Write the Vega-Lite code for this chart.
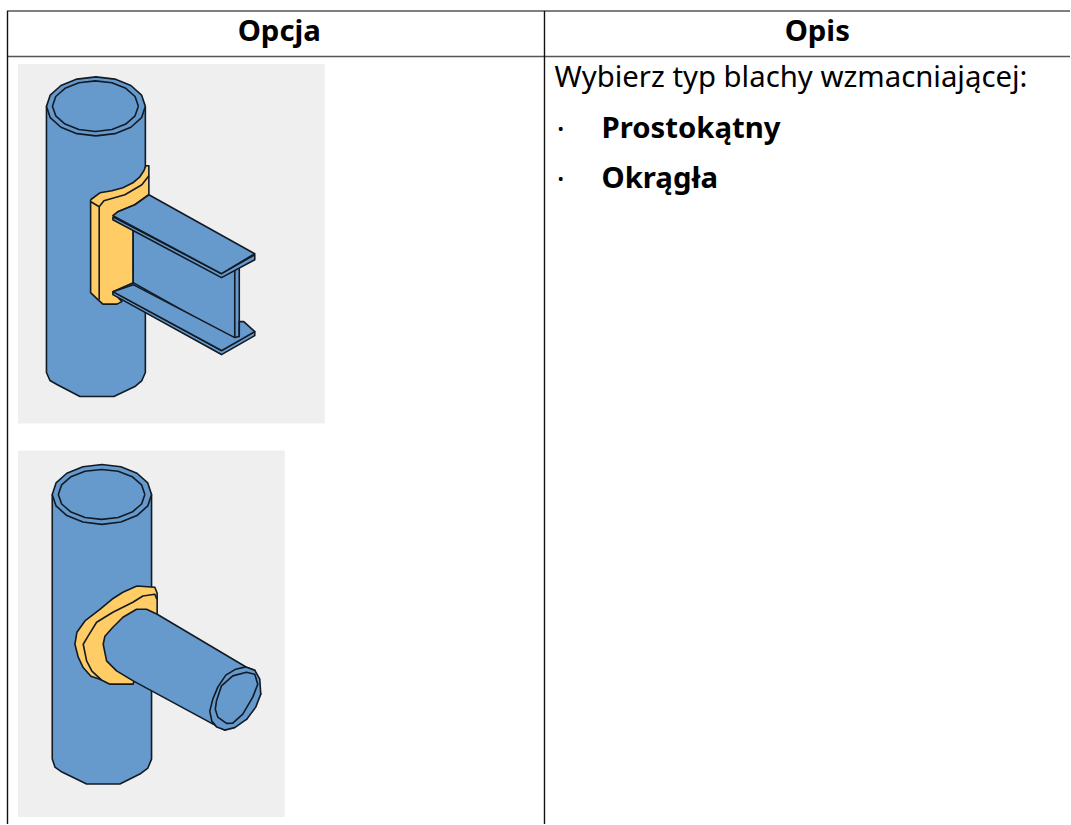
{"$schema":"https://vega.github.io/schema/vega-lite/v6.json","width":1071,"height":825,"autosize":{"type":"fit","contains":"padding"},"padding":0,"background":"white","view":{"stroke":null},
"datasets":{
"panels":[{"panel":"Prostokątny","x":18,"x2":325,"y":64,"y2":424},{"panel":"Okrągła","x":18,"x2":285,"y":451,"y2":818}],
"rules":[{"kind":"h","x":7,"x2":1071,"y":11,"y2":11},{"kind":"h","x":7,"x2":1071,"y":56.5,"y2":56.5},{"kind":"v","x":7.5,"x2":7.5,"y":11,"y2":825},{"kind":"v","x":545,"x2":545,"y":11,"y2":825}],
"head":[{"t":"Opcja","x":279.5,"y":41},{"t":"Opis","x":818,"y":41}],
"bullets":[{"t":"•","x":558,"y":135},{"t":"•","x":558,"y":185.5}],
"bold":[{"t":"Prostokątny","x":602,"y":138},{"t":"Okrągła","x":602,"y":188.5}],
"body":[{"t":"Wybierz typ blachy wzmacniającej:","x":555,"y":87}],
"shapes":[
{"s":"c1","p":"steel","i":0,"x":46.5,"y":106.5},{"s":"c1","p":"steel","i":1,"x":46.5,"y":373},{"s":"c1","p":"steel","i":2,"x":50,"y":381},{"s":"c1","p":"steel","i":3,"x":57,"y":385},{"s":"c1","p":"steel","i":4,"x":80,"y":397},{"s":"c1","p":"steel","i":5,"x":114,"y":397},{"s":"c1","p":"steel","i":6,"x":135,"y":387},{"s":"c1","p":"steel","i":7,"x":142,"y":381},{"s":"c1","p":"steel","i":8,"x":145.5,"y":373},{"s":"c1","p":"steel","i":9,"x":145.5,"y":106.5},{"s":"c1","p":"steel","i":10,"x":46.5,"y":106.5},
{"s":"e1","p":"steel","i":0,"x":145.5,"y":106.5},{"s":"e1","p":"steel","i":1,"x":141.7,"y":117.8},{"s":"e1","p":"steel","i":2,"x":131,"y":127.4},{"s":"e1","p":"steel","i":3,"x":115,"y":133.8},{"s":"e1","p":"steel","i":4,"x":96,"y":136},{"s":"e1","p":"steel","i":5,"x":77,"y":133.8},{"s":"e1","p":"steel","i":6,"x":61,"y":127.4},{"s":"e1","p":"steel","i":7,"x":50.3,"y":117.8},{"s":"e1","p":"steel","i":8,"x":46.5,"y":106.5},{"s":"e1","p":"steel","i":9,"x":50.3,"y":95.2},{"s":"e1","p":"steel","i":10,"x":61,"y":85.6},{"s":"e1","p":"steel","i":11,"x":77,"y":79.2},{"s":"e1","p":"steel","i":12,"x":96,"y":77},{"s":"e1","p":"steel","i":13,"x":115,"y":79.2},{"s":"e1","p":"steel","i":14,"x":131,"y":85.6},{"s":"e1","p":"steel","i":15,"x":141.7,"y":95.2},{"s":"e1","p":"steel","i":16,"x":145.5,"y":106.5},
{"s":"i1","p":"steel","i":0,"x":138.5,"y":106.3},{"s":"i1","p":"steel","i":1,"x":135.2,"y":116},{"s":"i1","p":"steel","i":2,"x":125.9,"y":124.2},{"s":"i1","p":"steel","i":3,"x":112,"y":129.7},{"s":"i1","p":"steel","i":4,"x":95.5,"y":131.6},{"s":"i1","p":"steel","i":5,"x":79,"y":129.7},{"s":"i1","p":"steel","i":6,"x":65.1,"y":124.2},{"s":"i1","p":"steel","i":7,"x":55.8,"y":116},{"s":"i1","p":"steel","i":8,"x":52.5,"y":106.3},{"s":"i1","p":"steel","i":9,"x":55.8,"y":96.6},{"s":"i1","p":"steel","i":10,"x":65.1,"y":88.4},{"s":"i1","p":"steel","i":11,"x":79,"y":82.9},{"s":"i1","p":"steel","i":12,"x":95.5,"y":81},{"s":"i1","p":"steel","i":13,"x":112,"y":82.9},{"s":"i1","p":"steel","i":14,"x":125.9,"y":88.4},{"s":"i1","p":"steel","i":15,"x":135.2,"y":96.6},{"s":"i1","p":"steel","i":16,"x":138.5,"y":106.3},
{"s":"pl1","p":"plate","i":0,"x":90.7,"y":200},{"s":"pl1","p":"plate","i":1,"x":100,"y":193},{"s":"pl1","p":"plate","i":2,"x":112,"y":191},{"s":"pl1","p":"plate","i":3,"x":123,"y":188},{"s":"pl1","p":"plate","i":4,"x":133,"y":183},{"s":"pl1","p":"plate","i":5,"x":140,"y":177},{"s":"pl1","p":"plate","i":6,"x":144,"y":171},{"s":"pl1","p":"plate","i":7,"x":146,"y":166},{"s":"pl1","p":"plate","i":8,"x":149,"y":166},{"s":"pl1","p":"plate","i":9,"x":149,"y":195},{"s":"pl1","p":"plate","i":10,"x":135,"y":205},{"s":"pl1","p":"plate","i":11,"x":118,"y":212},{"s":"pl1","p":"plate","i":12,"x":133.3,"y":222},{"s":"pl1","p":"plate","i":13,"x":133.3,"y":283},{"s":"pl1","p":"plate","i":14,"x":122,"y":288},{"s":"pl1","p":"plate","i":15,"x":113,"y":292},{"s":"pl1","p":"plate","i":16,"x":122,"y":302},{"s":"pl1","p":"plate","i":17,"x":117,"y":304.5},{"s":"pl1","p":"plate","i":18,"x":103,"y":304.5},{"s":"pl1","p":"plate","i":19,"x":98,"y":300},{"s":"pl1","p":"plate","i":20,"x":90.7,"y":293},{"s":"pl1","p":"plate","i":21,"x":90.7,"y":200},
{"s":"pll1","p":"none","i":0,"x":91,"y":202},{"s":"pll1","p":"none","i":1,"x":99.3,"y":207},{"s":"pll1","p":"none","i":2,"x":99.3,"y":300},
{"s":"pll2","p":"none","i":0,"x":99.3,"y":207},{"s":"pll2","p":"none","i":1,"x":104,"y":201},{"s":"pll2","p":"none","i":2,"x":125,"y":195},{"s":"pll2","p":"none","i":3,"x":142,"y":185},{"s":"pll2","p":"none","i":4,"x":149,"y":176},
{"s":"web","p":"steel","i":0,"x":133.3,"y":222},{"s":"web","p":"steel","i":1,"x":235,"y":270},{"s":"web","p":"steel","i":2,"x":235,"y":340},{"s":"web","p":"steel","i":3,"x":133.3,"y":283},{"s":"web","p":"steel","i":4,"x":133.3,"y":222},
{"s":"edge","p":"steel","i":0,"x":235,"y":268},{"s":"edge","p":"steel","i":1,"x":239.5,"y":266},{"s":"edge","p":"steel","i":2,"x":239.5,"y":337},{"s":"edge","p":"steel","i":3,"x":235,"y":340},{"s":"edge","p":"steel","i":4,"x":235,"y":268},
{"s":"lft","p":"steel","i":0,"x":113,"y":292},{"s":"lft","p":"steel","i":1,"x":113,"y":295},{"s":"lft","p":"steel","i":2,"x":221.7,"y":355},{"s":"lft","p":"steel","i":3,"x":255,"y":336},{"s":"lft","p":"steel","i":4,"x":255,"y":332},{"s":"lft","p":"steel","i":5,"x":221.7,"y":351},{"s":"lft","p":"steel","i":6,"x":113,"y":292},
{"s":"lf","p":"steel","i":0,"x":113,"y":292},{"s":"lf","p":"steel","i":1,"x":133.3,"y":285},{"s":"lf","p":"steel","i":2,"x":235,"y":338},{"s":"lf","p":"steel","i":3,"x":239.5,"y":337},{"s":"lf","p":"steel","i":4,"x":239.5,"y":322},{"s":"lf","p":"steel","i":5,"x":244,"y":322},{"s":"lf","p":"steel","i":6,"x":255,"y":332},{"s":"lf","p":"steel","i":7,"x":221.7,"y":351},{"s":"lf","p":"steel","i":8,"x":113,"y":292},
{"s":"uft","p":"steel","i":0,"x":113,"y":217},{"s":"uft","p":"steel","i":1,"x":113,"y":220},{"s":"uft","p":"steel","i":2,"x":221.7,"y":278},{"s":"uft","p":"steel","i":3,"x":255,"y":260},{"s":"uft","p":"steel","i":4,"x":255,"y":255},{"s":"uft","p":"steel","i":5,"x":221.7,"y":274},{"s":"uft","p":"steel","i":6,"x":113,"y":217},
{"s":"uf","p":"steel","i":0,"x":149,"y":195},{"s":"uf","p":"steel","i":1,"x":255,"y":254},{"s":"uf","p":"steel","i":2,"x":221.7,"y":274},{"s":"uf","p":"steel","i":3,"x":113,"y":216},{"s":"uf","p":"steel","i":4,"x":118,"y":212},{"s":"uf","p":"steel","i":5,"x":135,"y":205},{"s":"uf","p":"steel","i":6,"x":149,"y":195},
{"s":"c2","p":"steel","i":0,"x":52.3,"y":495},{"s":"c2","p":"steel","i":1,"x":52.3,"y":760},{"s":"c2","p":"steel","i":2,"x":55,"y":768},{"s":"c2","p":"steel","i":3,"x":62,"y":773},{"s":"c2","p":"steel","i":4,"x":86.7,"y":785},{"s":"c2","p":"steel","i":5,"x":120,"y":785},{"s":"c2","p":"steel","i":6,"x":140,"y":775},{"s":"c2","p":"steel","i":7,"x":148,"y":769},{"s":"c2","p":"steel","i":8,"x":151.7,"y":760},{"s":"c2","p":"steel","i":9,"x":151.7,"y":495},{"s":"c2","p":"steel","i":10,"x":52.3,"y":495},
{"s":"e2","p":"steel","i":0,"x":151.7,"y":495},{"s":"e2","p":"steel","i":1,"x":147.9,"y":506.5},{"s":"e2","p":"steel","i":2,"x":137.1,"y":516.2},{"s":"e2","p":"steel","i":3,"x":121,"y":522.7},{"s":"e2","p":"steel","i":4,"x":102,"y":525},{"s":"e2","p":"steel","i":5,"x":83,"y":522.7},{"s":"e2","p":"steel","i":6,"x":66.9,"y":516.2},{"s":"e2","p":"steel","i":7,"x":56.1,"y":506.5},{"s":"e2","p":"steel","i":8,"x":52.3,"y":495},{"s":"e2","p":"steel","i":9,"x":56.1,"y":483.5},{"s":"e2","p":"steel","i":10,"x":66.9,"y":473.8},{"s":"e2","p":"steel","i":11,"x":83,"y":467.3},{"s":"e2","p":"steel","i":12,"x":102,"y":465},{"s":"e2","p":"steel","i":13,"x":121,"y":467.3},{"s":"e2","p":"steel","i":14,"x":137.1,"y":473.8},{"s":"e2","p":"steel","i":15,"x":147.9,"y":483.5},{"s":"e2","p":"steel","i":16,"x":151.7,"y":495},
{"s":"i2","p":"steel","i":0,"x":145,"y":495},{"s":"i2","p":"steel","i":1,"x":141.7,"y":504.6},{"s":"i2","p":"steel","i":2,"x":132.3,"y":512.7},{"s":"i2","p":"steel","i":3,"x":118.3,"y":518.1},{"s":"i2","p":"steel","i":4,"x":101.7,"y":520},{"s":"i2","p":"steel","i":5,"x":85.1,"y":518.1},{"s":"i2","p":"steel","i":6,"x":71.1,"y":512.7},{"s":"i2","p":"steel","i":7,"x":61.7,"y":504.6},{"s":"i2","p":"steel","i":8,"x":58.4,"y":495},{"s":"i2","p":"steel","i":9,"x":61.7,"y":485.4},{"s":"i2","p":"steel","i":10,"x":71.1,"y":477.3},{"s":"i2","p":"steel","i":11,"x":85.1,"y":471.9},{"s":"i2","p":"steel","i":12,"x":101.7,"y":470},{"s":"i2","p":"steel","i":13,"x":118.3,"y":471.9},{"s":"i2","p":"steel","i":14,"x":132.3,"y":477.3},{"s":"i2","p":"steel","i":15,"x":141.7,"y":485.4},{"s":"i2","p":"steel","i":16,"x":145,"y":495},
{"s":"pl2","p":"plate","i":0,"x":137,"y":586.7},{"s":"pl2","p":"plate","i":1,"x":155,"y":588},{"s":"pl2","p":"plate","i":2,"x":157.3,"y":594},{"s":"pl2","p":"plate","i":3,"x":157.3,"y":615},{"s":"pl2","p":"plate","i":4,"x":146.7,"y":625},{"s":"pl2","p":"plate","i":5,"x":133.3,"y":685},{"s":"pl2","p":"plate","i":6,"x":110,"y":685},{"s":"pl2","p":"plate","i":7,"x":100,"y":680},{"s":"pl2","p":"plate","i":8,"x":91,"y":677},{"s":"pl2","p":"plate","i":9,"x":83,"y":668},{"s":"pl2","p":"plate","i":10,"x":78.3,"y":658},{"s":"pl2","p":"plate","i":11,"x":75,"y":645},{"s":"pl2","p":"plate","i":12,"x":77,"y":633},{"s":"pl2","p":"plate","i":13,"x":85,"y":621.7},{"s":"pl2","p":"plate","i":14,"x":100,"y":610},{"s":"pl2","p":"plate","i":15,"x":112,"y":600},{"s":"pl2","p":"plate","i":16,"x":123,"y":593},{"s":"pl2","p":"plate","i":17,"x":137,"y":586.7},
{"s":"pll3","p":"none","i":0,"x":157,"y":600},{"s":"pll3","p":"none","i":1,"x":155,"y":595},{"s":"pll3","p":"none","i":2,"x":143,"y":596.7},{"s":"pll3","p":"none","i":3,"x":133,"y":603},{"s":"pll3","p":"none","i":4,"x":113,"y":613},{"s":"pll3","p":"none","i":5,"x":96.7,"y":623},{"s":"pll3","p":"none","i":6,"x":88.3,"y":636.7},{"s":"pll3","p":"none","i":7,"x":83.3,"y":645},{"s":"pll3","p":"none","i":8,"x":86.7,"y":661.7},{"s":"pll3","p":"none","i":9,"x":92,"y":672},{"s":"pll3","p":"none","i":10,"x":101.7,"y":681},
{"s":"tube","p":"steel","i":0,"x":157.3,"y":615},{"s":"tube","p":"steel","i":1,"x":146.7,"y":610},{"s":"tube","p":"steel","i":2,"x":136.7,"y":610},{"s":"tube","p":"steel","i":3,"x":123,"y":618},{"s":"tube","p":"steel","i":4,"x":113,"y":628},{"s":"tube","p":"steel","i":5,"x":105,"y":637},{"s":"tube","p":"steel","i":6,"x":103.3,"y":645},{"s":"tube","p":"steel","i":7,"x":106.7,"y":661.7},{"s":"tube","p":"steel","i":8,"x":116.7,"y":671.7},{"s":"tube","p":"steel","i":9,"x":133.3,"y":681.7},{"s":"tube","p":"steel","i":10,"x":213.3,"y":725},{"s":"tube","p":"steel","i":11,"x":225,"y":731},{"s":"tube","p":"steel","i":12,"x":247,"y":720},{"s":"tube","p":"steel","i":13,"x":261,"y":695},{"s":"tube","p":"steel","i":14,"x":255,"y":671},{"s":"tube","p":"steel","i":15,"x":246.7,"y":668},{"s":"tube","p":"steel","i":16,"x":157.3,"y":615},
{"s":"te","p":"steel","i":0,"x":246,"y":667.7},{"s":"te","p":"steel","i":1,"x":255,"y":671},{"s":"te","p":"steel","i":2,"x":260,"y":680},{"s":"te","p":"steel","i":3,"x":261,"y":695},{"s":"te","p":"steel","i":4,"x":256,"y":708},{"s":"te","p":"steel","i":5,"x":247,"y":720},{"s":"te","p":"steel","i":6,"x":235,"y":728.5},{"s":"te","p":"steel","i":7,"x":225,"y":731},{"s":"te","p":"steel","i":8,"x":217,"y":728},{"s":"te","p":"steel","i":9,"x":212,"y":722},{"s":"te","p":"steel","i":10,"x":210,"y":712},{"s":"te","p":"steel","i":11,"x":213,"y":700},{"s":"te","p":"steel","i":12,"x":218,"y":688},{"s":"te","p":"steel","i":13,"x":226,"y":676},{"s":"te","p":"steel","i":14,"x":236,"y":670},{"s":"te","p":"steel","i":15,"x":246,"y":667.7},
{"s":"ti","p":"steel","i":0,"x":216.7,"y":701.7},{"s":"ti","p":"steel","i":1,"x":215.5,"y":710},{"s":"ti","p":"steel","i":2,"x":218,"y":718},{"s":"ti","p":"steel","i":3,"x":226.7,"y":724.3},{"s":"ti","p":"steel","i":4,"x":233,"y":724},{"s":"ti","p":"steel","i":5,"x":243,"y":715},{"s":"ti","p":"steel","i":6,"x":253,"y":698},{"s":"ti","p":"steel","i":7,"x":258,"y":685},{"s":"ti","p":"steel","i":8,"x":255,"y":675},{"s":"ti","p":"steel","i":9,"x":246.7,"y":673},{"s":"ti","p":"steel","i":10,"x":233,"y":676.7},{"s":"ti","p":"steel","i":11,"x":221.7,"y":686.7},{"s":"ti","p":"steel","i":12,"x":216.7,"y":701.7}
]},
"layer":[
{"data":{"name":"panels"},"mark":{"type":"rect","color":"#efefef"},"encoding":{"x":{"field":"x","type":"quantitative","scale":{"domain":[0,1071],"nice":false,"zero":false},"axis":null},"x2":{"field":"x2"},"y":{"field":"y","type":"quantitative","scale":{"domain":[0,825],"reverse":true,"nice":false,"zero":false},"axis":null},"y2":{"field":"y2"}}},
{"data":{"name":"rules"},"mark":{"type":"rule","strokeWidth":1.4},"encoding":{"x":{"field":"x","type":"quantitative"},"x2":{"field":"x2"},"y":{"field":"y","type":"quantitative"},"y2":{"field":"y2"},"stroke":{"field":"kind","type":"nominal","scale":{"domain":["h","v"],"range":["#555555","#111111"]},"legend":null}}},
{"data":{"name":"shapes"},"mark":{"type":"line","stroke":"#121a24","strokeWidth":1.6,"strokeJoin":"round"},"encoding":{"x":{"field":"x","type":"quantitative"},"y":{"field":"y","type":"quantitative"},"detail":{"field":"s"},"order":{"field":"i","type":"quantitative"},"fill":{"field":"p","type":"nominal","scale":{"domain":["steel","plate","none"],"range":["#6699cc","#ffcc66","transparent"]},"legend":null}}},
{"data":{"name":"head"},"mark":{"type":"text","font":"Noto Sans","fontSize":29.33,"fontWeight":"bold","align":"center","baseline":"alphabetic","color":"#000000"},"encoding":{"x":{"field":"x","type":"quantitative"},"y":{"field":"y","type":"quantitative"},"text":{"field":"t"}}},
{"data":{"name":"bold"},"mark":{"type":"text","font":"Noto Sans","fontSize":29.33,"fontWeight":"bold","align":"left","baseline":"alphabetic","color":"#000000"},"encoding":{"x":{"field":"x","type":"quantitative"},"y":{"field":"y","type":"quantitative"},"text":{"field":"t"}}},
{"data":{"name":"bullets"},"mark":{"type":"text","font":"Noto Sans","fontSize":17,"align":"left","baseline":"alphabetic","color":"#000000"},"encoding":{"x":{"field":"x","type":"quantitative"},"y":{"field":"y","type":"quantitative"},"text":{"field":"t"}}},
{"data":{"name":"body"},"mark":{"type":"text","font":"Noto Sans","fontSize":29.33,"align":"left","baseline":"alphabetic","color":"#000000"},"encoding":{"x":{"field":"x","type":"quantitative"},"y":{"field":"y","type":"quantitative"},"text":{"field":"t"}}}
]}
